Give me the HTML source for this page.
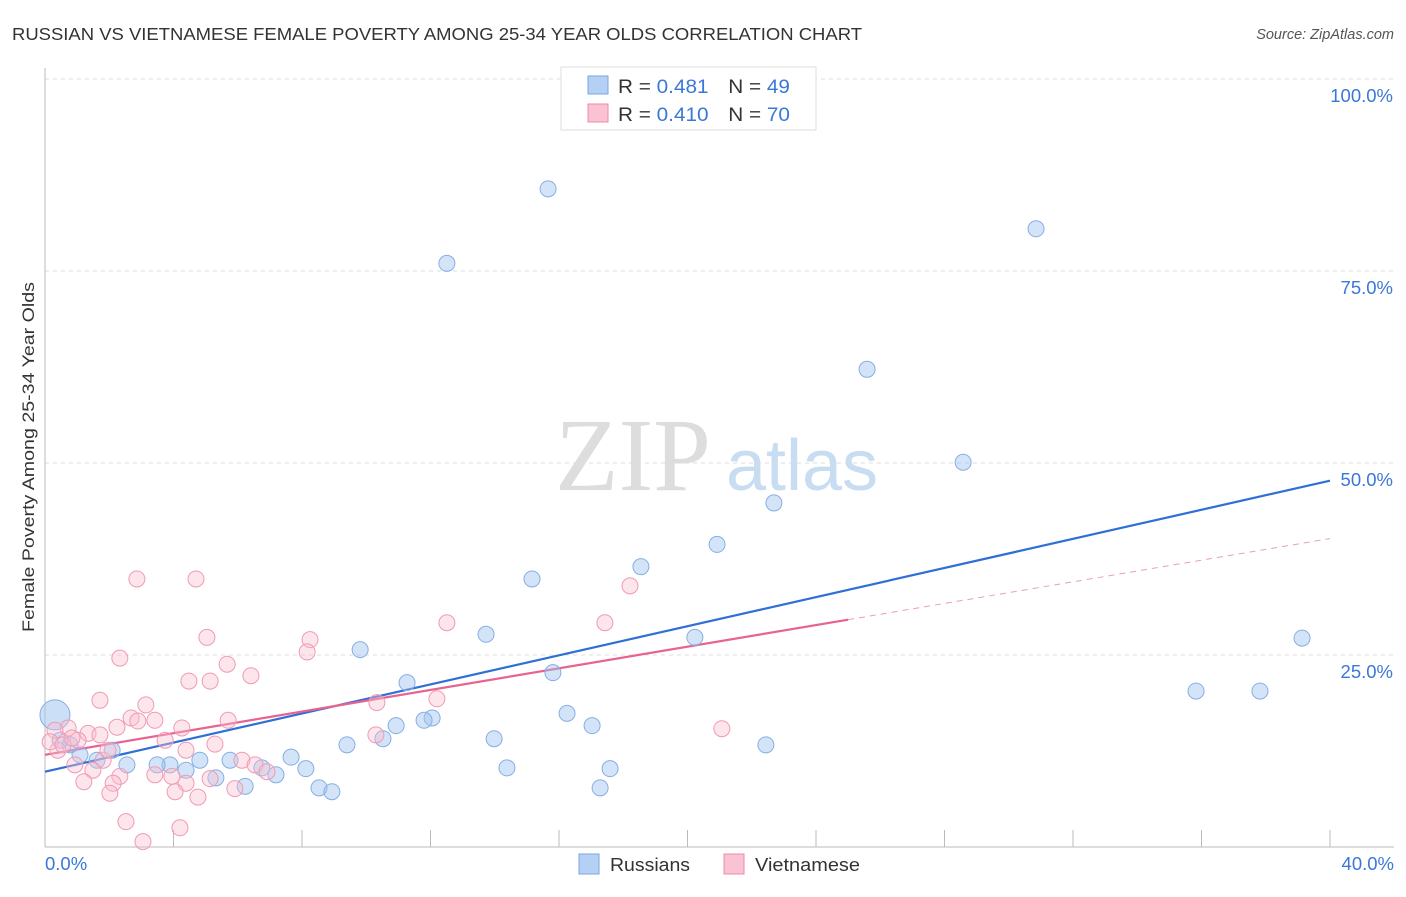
<!DOCTYPE html>
<html><head><meta charset="utf-8"><style>
body{margin:0;background:#fff;font-family:"Liberation Sans",sans-serif;}
svg text{font-family:"Liberation Sans",sans-serif;}
</style></head><body>
<svg id="chart" width="1406" height="892">
<text x="12" y="40" font-size="17.5" fill="#333" textLength="850" lengthAdjust="spacingAndGlyphs">RUSSIAN VS VIETNAMESE FEMALE POVERTY AMONG 25-34 YEAR OLDS CORRELATION CHART</text>
<text x="1394" y="39" font-size="14.5" fill="#555" font-style="italic" text-anchor="end">Source: ZipAtlas.com</text>
<text transform="translate(34,457) rotate(-90)" font-size="17" fill="#333" text-anchor="middle" textLength="350" lengthAdjust="spacingAndGlyphs">Female Poverty Among 25-34 Year Olds</text>
<g>
<text x="633" y="490" font-size="104" fill="#ddd" text-anchor="middle" style="font-family:'Liberation Serif',serif">ZIP</text>
<text x="802" y="490" font-size="72" fill="#c8dcf2" text-anchor="middle">atlas</text>
</g>
<g id="grid"></g>
<g id="axes"></g>
<g id="lines"></g>
<g id="points"></g>
<g>
<rect x="561" y="67" width="255" height="63" fill="#fff" stroke="#ddd"/>
<rect x="588" y="76" width="20" height="18" fill="#b4d0f4" stroke="#7aa6e0"/>
<rect x="588" y="104" width="20" height="18" fill="#fac3d3" stroke="#f08aa8"/>
<text x="618" y="93" font-size="19" fill="#333" textLength="172" lengthAdjust="spacingAndGlyphs">R = <tspan fill="#3a78d8">0.481</tspan><tspan dx="18">N = </tspan><tspan fill="#3a78d8">49</tspan></text>
<text x="618" y="121" font-size="19" fill="#333" textLength="172" lengthAdjust="spacingAndGlyphs">R = <tspan fill="#3a78d8">0.410</tspan><tspan dx="18">N = </tspan><tspan fill="#3a78d8">70</tspan></text>
</g>
<g>
<rect x="579" y="854" width="20" height="20" fill="#b4d0f4" stroke="#7aa6e0"/>
<text x="610" y="871" font-size="18" fill="#333" textLength="80" lengthAdjust="spacingAndGlyphs">Russians</text>
<rect x="724" y="854" width="20" height="20" fill="#fac3d3" stroke="#f08aa8"/>
<text x="755" y="871" font-size="18" fill="#333" textLength="105" lengthAdjust="spacingAndGlyphs">Vietnamese</text>
</g>
</svg>
<script>
const blueX=[15.66,12.51,30.85,25.59,28.58,22.69,20.92,18.55,15.16,39.13,13.73,20.23,9.81,15.81,11.27,35.83,37.82,16.25,12.05,11.80,17.03,10.93,13.98,10.52,9.40,22.44,2.09,7.66,5.76,3.89,4.82,2.55,3.49,4.39,6.75,8.12,14.38,17.59,7.19,5.32,6.23,8.53,8.93,17.28,1.62,1.09,0.78,0.47];
const blueY=[85.7,76.0,80.5,62.2,50.1,44.8,39.4,36.5,34.9,27.2,27.7,27.3,25.7,22.7,21.4,20.3,20.3,17.4,16.8,16.5,15.8,15.8,14.1,14.1,13.3,13.3,12.6,11.7,11.3,10.7,11.3,10.7,10.7,10.0,10.3,10.2,10.3,10.2,9.4,9.0,7.9,7.7,7.2,7.7,11.3,12.0,13.3,13.9];
const pinkX=[2.86,4.70,5.04,8.25,8.16,12.51,17.43,18.21,2.33,5.67,6.41,4.48,5.14,1.71,3.14,12.20,10.33,2.68,3.42,5.70,4.26,2.89,2.24,1.34,0.72,0.31,1.03,1.71,3.74,10.30,5.29,4.39,6.13,6.54,6.91,1.81,1.49,0.40,0.93,2.33,3.42,3.95,5.14,4.39,5.91,2.12,1.21,4.05,2.02,4.76,2.52,4.20,3.05,21.07,0.16,0.56,1.96,0.84];
const pinkY=[34.9,34.9,27.3,27.0,25.4,29.2,29.2,34.0,24.6,23.8,22.3,21.6,21.6,19.1,18.5,19.3,18.8,16.8,16.5,16.5,15.5,16.4,15.6,14.8,15.5,15.2,13.9,14.6,13.9,14.6,13.4,12.6,11.3,10.7,9.8,11.3,10.0,12.6,10.7,9.2,9.4,9.2,8.9,8.3,7.6,8.3,8.5,7.2,7.0,6.5,3.3,2.5,0.7,15.4,13.7,13.3,12.6,14.2];
const bigPoint=[0.31,17.2];
const blueLine=[9.8,47.7];
const pinkLine=[12.0,29.6,25];
const yTicks=[25,50,75,100];
const yTickLabels=["25.0%","50.0%","75.0%","100.0%"];
const xTickLabels=["0.0%","40.0%"];
const NS="http://www.w3.org/2000/svg";
const xs=v=>45+v*(1330-45)/40;
const ys=v=>847-v*7.68;
function mk(tag,attrs,parent){const e=document.createElementNS(NS,tag);for(const k in attrs)e.setAttribute(k,attrs[k]);document.getElementById(parent).appendChild(e);return e;}
yTicks.forEach((t,i)=>{
 const g=mk('line',{x1:45,x2:1394,y1:ys(t),y2:ys(t),stroke:'#ddd','stroke-dasharray':'4,4'},'grid');
 
 
 const l=mk('text',{x:1393,y:ys(t)+23,'font-size':18.5,fill:'#3a78d8','text-anchor':'end'},'grid');
 l.textContent=yTickLabels[i];
 
 
});
const ax=mk('line',{x1:45,x2:45,y1:68,y2:847,stroke:'#bbb'},'axes');


const bx=mk('line',{x1:45,x2:1394,y1:847,y2:847,stroke:'#bbb'},'axes');


for(let i=1;i<=10;i++){const t=mk('line',{x1:xs(i*4),x2:xs(i*4),y1:830,y2:847,stroke:'#bbb'},'axes');
 
 }
[[0,'start',45],[40,'end',1394]].forEach((a,i)=>{const t=mk('text',{x:a[2],y:870,'font-size':18.5,fill:'#3a78d8','text-anchor':a[1]},'axes');t.textContent=xTickLabels[i];
 
 });
blueX.forEach((x,i)=>{const c=mk('circle',{cx:xs(x),cy:ys(blueY[i]),r:8,fill:'rgba(160,196,240,0.45)',stroke:'#86aee4','stroke-width':1},'points');
 
 });
const bp=mk('circle',{cx:xs(bigPoint[0]),cy:ys(bigPoint[1]),r:15,fill:'rgba(160,196,240,0.55)',stroke:'#86aee4'},'points');


pinkX.forEach((x,i)=>{const c=mk('circle',{cx:xs(x),cy:ys(pinkY[i]),r:8,fill:'rgba(250,190,208,0.4)',stroke:'#f09ab4','stroke-width':1},'points');
 
 });
const bl=mk('line',{x1:xs(0),y1:ys(blueLine[0]),x2:xs(40),y2:ys(blueLine[1]),stroke:'#2f6fd6','stroke-width':2.2},'lines');


const slope=(pinkLine[1]-pinkLine[0])/pinkLine[2];
const pl=mk('line',{x1:xs(0),y1:ys(pinkLine[0]),x2:xs(pinkLine[2]),y2:ys(pinkLine[1]),stroke:'#e8638f','stroke-width':2.2},'lines');


const pd=mk('line',{x1:xs(pinkLine[2]),y1:ys(pinkLine[1]),x2:xs(40),y2:ys(pinkLine[0]+slope*40),stroke:'#e8a0b8','stroke-width':1,'stroke-dasharray':'6,5'},'lines');


</script>
</body></html>
